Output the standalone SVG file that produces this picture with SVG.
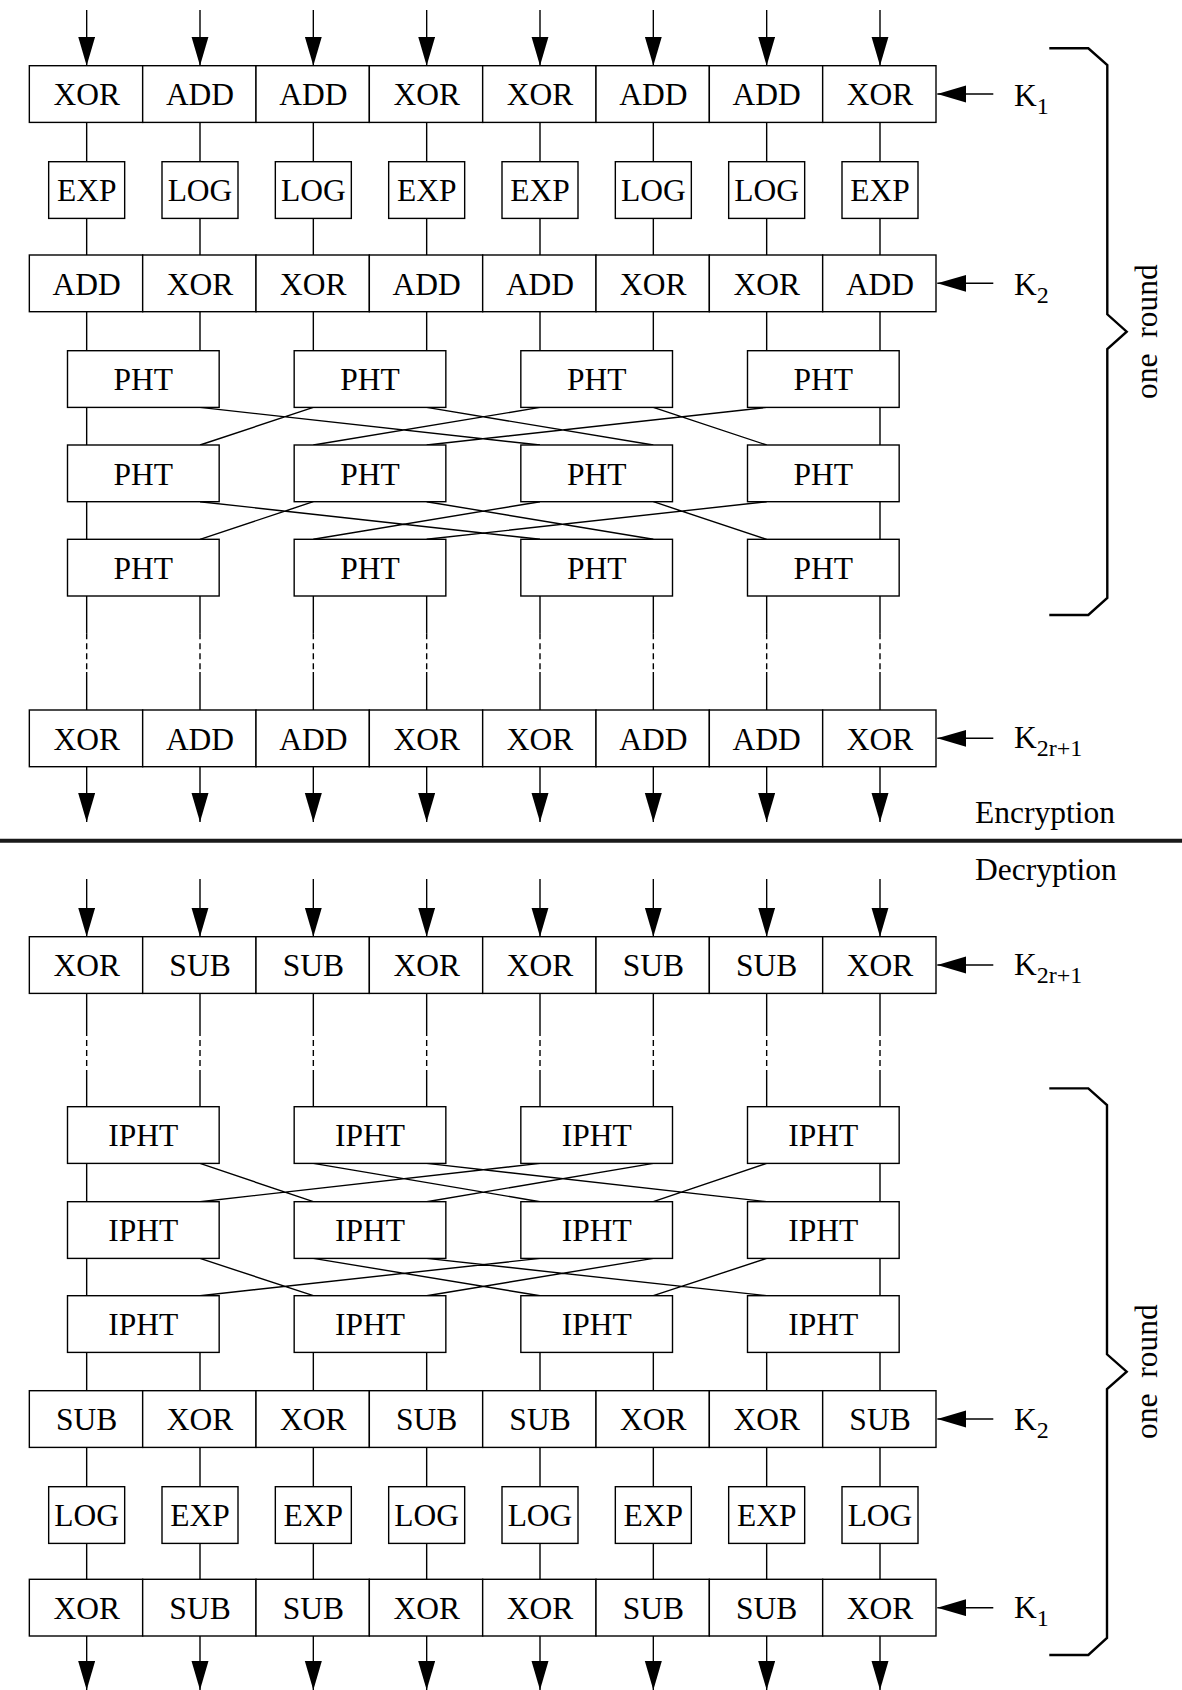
<svg xmlns="http://www.w3.org/2000/svg" width="1182" height="1690" viewBox="0 0 1182 1690">
<style>
  .bx { fill: #fff; stroke: #000; stroke-width: 1.4; }
  .t { font-family: "Liberation Serif", "Times New Roman", serif; font-size: 31.5px; text-anchor: middle; fill: #000; }
  .k { font-family: "Liberation Serif", "Times New Roman", serif; font-size: 31.5px; fill: #000; }
  .sub { font-size: 24px; }
  .ln { stroke: #000; stroke-width: 1.4; fill: none; }
  .ds { stroke: #000; stroke-width: 1.4; fill: none; stroke-dasharray: 6 4; }
  .ar { stroke: #000; stroke-width: 1.4; fill: none; marker-end: url(#ah); }
  .br { stroke: #000; stroke-width: 2.4; fill: none; }
</style>
<defs>
  <marker id="ah" markerUnits="userSpaceOnUse" markerWidth="30" markerHeight="18" refX="29" refY="8.5" orient="auto">
    <path d="M0,0 L29,8.5 L0,17 z" fill="#000"/>
  </marker>
</defs>
<rect x="0" y="0" width="1182" height="1690" fill="#fff"/>

<g id="connectors">
  <!-- encryption input arrows -->
  <line class="ar" x1="86.67" y1="10" x2="86.67" y2="65.7"/>
  <line class="ar" x1="200" y1="10" x2="200" y2="65.7"/>
  <line class="ar" x1="313.33" y1="10" x2="313.33" y2="65.7"/>
  <line class="ar" x1="426.67" y1="10" x2="426.67" y2="65.7"/>
  <line class="ar" x1="540" y1="10" x2="540" y2="65.7"/>
  <line class="ar" x1="653.33" y1="10" x2="653.33" y2="65.7"/>
  <line class="ar" x1="766.67" y1="10" x2="766.67" y2="65.7"/>
  <line class="ar" x1="880" y1="10" x2="880" y2="65.7"/>
  <!-- XOR row -> EXP/LOG -->
  <path class="ln" d="M86.67,122.4V161.7 M200,122.4V161.7 M313.33,122.4V161.7 M426.67,122.4V161.7 M540,122.4V161.7 M653.33,122.4V161.7 M766.67,122.4V161.7 M880,122.4V161.7"/>
  <!-- EXP/LOG -> ADD row -->
  <path class="ln" d="M86.67,218.4V255 M200,218.4V255 M313.33,218.4V255 M426.67,218.4V255 M540,218.4V255 M653.33,218.4V255 M766.67,218.4V255 M880,218.4V255"/>
  <!-- ADD row -> PHT1 -->
  <path class="ln" d="M86.67,311.7V350.7 M200,311.7V350.7 M313.33,311.7V350.7 M426.67,311.7V350.7 M540,311.7V350.7 M653.33,311.7V350.7 M766.67,311.7V350.7 M880,311.7V350.7"/>
  <!-- PHT1 -> PHT2 shuffle -->
  <path class="ln" d="M86.67,407.4L86.67,445 M200,407.4L540,445 M313.33,407.4L200,445 M426.67,407.4L653.33,445 M540,407.4L313.33,445 M653.33,407.4L766.67,445 M766.67,407.4L426.67,445 M880,407.4L880,445"/>
  <!-- PHT2 -> PHT3 shuffle -->
  <path class="ln" d="M86.67,501.7L86.67,539.3 M200,501.7L540,539.3 M313.33,501.7L200,539.3 M426.67,501.7L653.33,539.3 M540,501.7L313.33,539.3 M653.33,501.7L766.67,539.3 M766.67,501.7L426.67,539.3 M880,501.7L880,539.3"/>
  <!-- PHT3 -> final XOR (elided rounds) -->
  <path class="ln" d="M86.67,596V633.3 M200,596V633.3 M313.33,596V633.3 M426.67,596V633.3 M540,596V633.3 M653.33,596V633.3 M766.67,596V633.3 M880,596V633.3"/>
  <path class="ds" d="M86.67,633.3V672 M200,633.3V672 M313.33,633.3V672 M426.67,633.3V672 M540,633.3V672 M653.33,633.3V672 M766.67,633.3V672 M880,633.3V672"/>
  <path class="ln" d="M86.67,672V710 M200,672V710 M313.33,672V710 M426.67,672V710 M540,672V710 M653.33,672V710 M766.67,672V710 M880,672V710"/>
  <!-- encryption output arrows -->
  <line class="ar" x1="86.67" y1="766.7" x2="86.67" y2="822"/>
  <line class="ar" x1="200" y1="766.7" x2="200" y2="822"/>
  <line class="ar" x1="313.33" y1="766.7" x2="313.33" y2="822"/>
  <line class="ar" x1="426.67" y1="766.7" x2="426.67" y2="822"/>
  <line class="ar" x1="540" y1="766.7" x2="540" y2="822"/>
  <line class="ar" x1="653.33" y1="766.7" x2="653.33" y2="822"/>
  <line class="ar" x1="766.67" y1="766.7" x2="766.67" y2="822"/>
  <line class="ar" x1="880" y1="766.7" x2="880" y2="822"/>
  <!-- key arrows encryption -->
  <line class="ar" x1="993.3" y1="94" x2="937.3" y2="94"/>
  <line class="ar" x1="993.3" y1="283.3" x2="937.3" y2="283.3"/>
  <line class="ar" x1="993.3" y1="738.3" x2="937.3" y2="738.3"/>

  <!-- separator -->
  <line x1="0" y1="840.7" x2="1182" y2="840.7" stroke="#1a1a1a" stroke-width="4"/>

  <!-- decryption input arrows -->
  <line class="ar" x1="86.67" y1="879" x2="86.67" y2="936.7"/>
  <line class="ar" x1="200" y1="879" x2="200" y2="936.7"/>
  <line class="ar" x1="313.33" y1="879" x2="313.33" y2="936.7"/>
  <line class="ar" x1="426.67" y1="879" x2="426.67" y2="936.7"/>
  <line class="ar" x1="540" y1="879" x2="540" y2="936.7"/>
  <line class="ar" x1="653.33" y1="879" x2="653.33" y2="936.7"/>
  <line class="ar" x1="766.67" y1="879" x2="766.67" y2="936.7"/>
  <line class="ar" x1="880" y1="879" x2="880" y2="936.7"/>
  <!-- XOR row -> IPHT1 (elided rounds) -->
  <path class="ln" d="M86.67,993.3V1030 M200,993.3V1030 M313.33,993.3V1030 M426.67,993.3V1030 M540,993.3V1030 M653.33,993.3V1030 M766.67,993.3V1030 M880,993.3V1030"/>
  <path class="ds" d="M86.67,1030V1070 M200,1030V1070 M313.33,1030V1070 M426.67,1030V1070 M540,1030V1070 M653.33,1030V1070 M766.67,1030V1070 M880,1030V1070"/>
  <path class="ln" d="M86.67,1070V1106.7 M200,1070V1106.7 M313.33,1070V1106.7 M426.67,1070V1106.7 M540,1070V1106.7 M653.33,1070V1106.7 M766.67,1070V1106.7 M880,1070V1106.7"/>
  <!-- IPHT1 -> IPHT2 inverse shuffle -->
  <path class="ln" d="M86.67,1163.4L86.67,1201.7 M200,1163.4L313.33,1201.7 M313.33,1163.4L540,1201.7 M426.67,1163.4L766.67,1201.7 M540,1163.4L200,1201.7 M653.33,1163.4L426.67,1201.7 M766.67,1163.4L653.33,1201.7 M880,1163.4L880,1201.7"/>
  <!-- IPHT2 -> IPHT3 inverse shuffle -->
  <path class="ln" d="M86.67,1258.4L86.67,1295.7 M200,1258.4L313.33,1295.7 M313.33,1258.4L540,1295.7 M426.67,1258.4L766.67,1295.7 M540,1258.4L200,1295.7 M653.33,1258.4L426.67,1295.7 M766.67,1258.4L653.33,1295.7 M880,1258.4L880,1295.7"/>
  <!-- IPHT3 -> SUB row -->
  <path class="ln" d="M86.67,1352.4V1390.7 M200,1352.4V1390.7 M313.33,1352.4V1390.7 M426.67,1352.4V1390.7 M540,1352.4V1390.7 M653.33,1352.4V1390.7 M766.67,1352.4V1390.7 M880,1352.4V1390.7"/>
  <!-- SUB row -> LOG/EXP -->
  <path class="ln" d="M86.67,1447.4V1486.7 M200,1447.4V1486.7 M313.33,1447.4V1486.7 M426.67,1447.4V1486.7 M540,1447.4V1486.7 M653.33,1447.4V1486.7 M766.67,1447.4V1486.7 M880,1447.4V1486.7"/>
  <!-- LOG/EXP -> XOR row -->
  <path class="ln" d="M86.67,1543.4V1579.3 M200,1543.4V1579.3 M313.33,1543.4V1579.3 M426.67,1543.4V1579.3 M540,1543.4V1579.3 M653.33,1543.4V1579.3 M766.67,1543.4V1579.3 M880,1543.4V1579.3"/>
  <!-- decryption output arrows -->
  <line class="ar" x1="86.67" y1="1636" x2="86.67" y2="1690"/>
  <line class="ar" x1="200" y1="1636" x2="200" y2="1690"/>
  <line class="ar" x1="313.33" y1="1636" x2="313.33" y2="1690"/>
  <line class="ar" x1="426.67" y1="1636" x2="426.67" y2="1690"/>
  <line class="ar" x1="540" y1="1636" x2="540" y2="1690"/>
  <line class="ar" x1="653.33" y1="1636" x2="653.33" y2="1690"/>
  <line class="ar" x1="766.67" y1="1636" x2="766.67" y2="1690"/>
  <line class="ar" x1="880" y1="1636" x2="880" y2="1690"/>
  <!-- key arrows decryption -->
  <line class="ar" x1="993.3" y1="965" x2="937.3" y2="965"/>
  <line class="ar" x1="993.3" y1="1419" x2="937.3" y2="1419"/>
  <line class="ar" x1="993.3" y1="1607.7" x2="937.3" y2="1607.7"/>
</g>

<!-- ===== Encryption ===== -->
<g id="enc-row1">
  <g id="e1-0"><rect class="bx" x="29.33" y="65.7" width="113.33" height="56.7"/><text class="t" x="86.67" y="105.2">XOR</text></g>
  <g id="e1-1"><rect class="bx" x="142.67" y="65.7" width="113.33" height="56.7"/><text class="t" x="200" y="105.2">ADD</text></g>
  <g id="e1-2"><rect class="bx" x="256" y="65.7" width="113.33" height="56.7"/><text class="t" x="313.33" y="105.2">ADD</text></g>
  <g id="e1-3"><rect class="bx" x="369.33" y="65.7" width="113.33" height="56.7"/><text class="t" x="426.67" y="105.2">XOR</text></g>
  <g id="e1-4"><rect class="bx" x="482.67" y="65.7" width="113.33" height="56.7"/><text class="t" x="540" y="105.2">XOR</text></g>
  <g id="e1-5"><rect class="bx" x="596" y="65.7" width="113.33" height="56.7"/><text class="t" x="653.33" y="105.2">ADD</text></g>
  <g id="e1-6"><rect class="bx" x="709.33" y="65.7" width="113.33" height="56.7"/><text class="t" x="766.67" y="105.2">ADD</text></g>
  <g id="e1-7"><rect class="bx" x="822.67" y="65.7" width="113.33" height="56.7"/><text class="t" x="880" y="105.2">XOR</text></g>
</g>
<g id="enc-row2">
  <g id="e2-0"><rect class="bx" x="48.67" y="161.7" width="76" height="56.7"/><text class="t" x="86.67" y="201.2">EXP</text></g>
  <g id="e2-1"><rect class="bx" x="162" y="161.7" width="76" height="56.7"/><text class="t" x="200" y="201.2">LOG</text></g>
  <g id="e2-2"><rect class="bx" x="275.33" y="161.7" width="76" height="56.7"/><text class="t" x="313.33" y="201.2">LOG</text></g>
  <g id="e2-3"><rect class="bx" x="388.67" y="161.7" width="76" height="56.7"/><text class="t" x="426.67" y="201.2">EXP</text></g>
  <g id="e2-4"><rect class="bx" x="502" y="161.7" width="76" height="56.7"/><text class="t" x="540" y="201.2">EXP</text></g>
  <g id="e2-5"><rect class="bx" x="615.33" y="161.7" width="76" height="56.7"/><text class="t" x="653.33" y="201.2">LOG</text></g>
  <g id="e2-6"><rect class="bx" x="728.67" y="161.7" width="76" height="56.7"/><text class="t" x="766.67" y="201.2">LOG</text></g>
  <g id="e2-7"><rect class="bx" x="842" y="161.7" width="76" height="56.7"/><text class="t" x="880" y="201.2">EXP</text></g>
</g>
<g id="enc-row3">
  <g id="e3-0"><rect class="bx" x="29.33" y="255" width="113.33" height="56.7"/><text class="t" x="86.67" y="294.5">ADD</text></g>
  <g id="e3-1"><rect class="bx" x="142.67" y="255" width="113.33" height="56.7"/><text class="t" x="200" y="294.5">XOR</text></g>
  <g id="e3-2"><rect class="bx" x="256" y="255" width="113.33" height="56.7"/><text class="t" x="313.33" y="294.5">XOR</text></g>
  <g id="e3-3"><rect class="bx" x="369.33" y="255" width="113.33" height="56.7"/><text class="t" x="426.67" y="294.5">ADD</text></g>
  <g id="e3-4"><rect class="bx" x="482.67" y="255" width="113.33" height="56.7"/><text class="t" x="540" y="294.5">ADD</text></g>
  <g id="e3-5"><rect class="bx" x="596" y="255" width="113.33" height="56.7"/><text class="t" x="653.33" y="294.5">XOR</text></g>
  <g id="e3-6"><rect class="bx" x="709.33" y="255" width="113.33" height="56.7"/><text class="t" x="766.67" y="294.5">XOR</text></g>
  <g id="e3-7"><rect class="bx" x="822.67" y="255" width="113.33" height="56.7"/><text class="t" x="880" y="294.5">ADD</text></g>
</g>
<g id="enc-pht1">
  <g id="p1-0"><rect class="bx" x="67.5" y="350.7" width="151.67" height="56.7"/><text class="t" x="143.33" y="390.2">PHT</text></g>
  <g id="p1-1"><rect class="bx" x="294.17" y="350.7" width="151.67" height="56.7"/><text class="t" x="370" y="390.2">PHT</text></g>
  <g id="p1-2"><rect class="bx" x="520.83" y="350.7" width="151.67" height="56.7"/><text class="t" x="596.67" y="390.2">PHT</text></g>
  <g id="p1-3"><rect class="bx" x="747.5" y="350.7" width="151.67" height="56.7"/><text class="t" x="823.33" y="390.2">PHT</text></g>
</g>
<g id="enc-pht2">
  <g id="p2-0"><rect class="bx" x="67.5" y="445" width="151.67" height="56.7"/><text class="t" x="143.33" y="484.5">PHT</text></g>
  <g id="p2-1"><rect class="bx" x="294.17" y="445" width="151.67" height="56.7"/><text class="t" x="370" y="484.5">PHT</text></g>
  <g id="p2-2"><rect class="bx" x="520.83" y="445" width="151.67" height="56.7"/><text class="t" x="596.67" y="484.5">PHT</text></g>
  <g id="p2-3"><rect class="bx" x="747.5" y="445" width="151.67" height="56.7"/><text class="t" x="823.33" y="484.5">PHT</text></g>
</g>
<g id="enc-pht3">
  <g id="p3-0"><rect class="bx" x="67.5" y="539.3" width="151.67" height="56.7"/><text class="t" x="143.33" y="578.8">PHT</text></g>
  <g id="p3-1"><rect class="bx" x="294.17" y="539.3" width="151.67" height="56.7"/><text class="t" x="370" y="578.8">PHT</text></g>
  <g id="p3-2"><rect class="bx" x="520.83" y="539.3" width="151.67" height="56.7"/><text class="t" x="596.67" y="578.8">PHT</text></g>
  <g id="p3-3"><rect class="bx" x="747.5" y="539.3" width="151.67" height="56.7"/><text class="t" x="823.33" y="578.8">PHT</text></g>
</g>
<g id="enc-final">
  <g id="ef-0"><rect class="bx" x="29.33" y="710" width="113.33" height="56.7"/><text class="t" x="86.67" y="749.5">XOR</text></g>
  <g id="ef-1"><rect class="bx" x="142.67" y="710" width="113.33" height="56.7"/><text class="t" x="200" y="749.5">ADD</text></g>
  <g id="ef-2"><rect class="bx" x="256" y="710" width="113.33" height="56.7"/><text class="t" x="313.33" y="749.5">ADD</text></g>
  <g id="ef-3"><rect class="bx" x="369.33" y="710" width="113.33" height="56.7"/><text class="t" x="426.67" y="749.5">XOR</text></g>
  <g id="ef-4"><rect class="bx" x="482.67" y="710" width="113.33" height="56.7"/><text class="t" x="540" y="749.5">XOR</text></g>
  <g id="ef-5"><rect class="bx" x="596" y="710" width="113.33" height="56.7"/><text class="t" x="653.33" y="749.5">ADD</text></g>
  <g id="ef-6"><rect class="bx" x="709.33" y="710" width="113.33" height="56.7"/><text class="t" x="766.67" y="749.5">ADD</text></g>
  <g id="ef-7"><rect class="bx" x="822.67" y="710" width="113.33" height="56.7"/><text class="t" x="880" y="749.5">XOR</text></g>
</g>
<g id="enc-keys">
  <text class="k" x="1014" y="106">K<tspan class="sub" dy="7.5">1</tspan></text>
  <text class="k" x="1014" y="295">K<tspan class="sub" dy="7.5">2</tspan></text>
  <text class="k" x="1014" y="748.3">K<tspan class="sub" dy="7.5">2r+1</tspan></text>
</g>
<g id="enc-brace">
  <path class="br" d="M1049.3,48.3 L1088.3,48.3 L1107.3,65 L1107.3,314.3 L1126.7,331.7 L1107.3,349 L1107.3,598 L1088.3,615 L1049.3,615"/>
  <text class="k" transform="translate(1157,331.7) rotate(-90)" text-anchor="middle" style="white-space:pre">one  round</text>
</g>
<g id="labels">
  <text class="k" x="975" y="823.3">Encryption</text>
  <text class="k" x="975" y="880">Decryption</text>
</g>

<!-- ===== Decryption ===== -->
<g id="dec-row1">
  <g id="d1-0"><rect class="bx" x="29.33" y="936.7" width="113.33" height="56.7"/><text class="t" x="86.67" y="976.2">XOR</text></g>
  <g id="d1-1"><rect class="bx" x="142.67" y="936.7" width="113.33" height="56.7"/><text class="t" x="200" y="976.2">SUB</text></g>
  <g id="d1-2"><rect class="bx" x="256" y="936.7" width="113.33" height="56.7"/><text class="t" x="313.33" y="976.2">SUB</text></g>
  <g id="d1-3"><rect class="bx" x="369.33" y="936.7" width="113.33" height="56.7"/><text class="t" x="426.67" y="976.2">XOR</text></g>
  <g id="d1-4"><rect class="bx" x="482.67" y="936.7" width="113.33" height="56.7"/><text class="t" x="540" y="976.2">XOR</text></g>
  <g id="d1-5"><rect class="bx" x="596" y="936.7" width="113.33" height="56.7"/><text class="t" x="653.33" y="976.2">SUB</text></g>
  <g id="d1-6"><rect class="bx" x="709.33" y="936.7" width="113.33" height="56.7"/><text class="t" x="766.67" y="976.2">SUB</text></g>
  <g id="d1-7"><rect class="bx" x="822.67" y="936.7" width="113.33" height="56.7"/><text class="t" x="880" y="976.2">XOR</text></g>
</g>
<g id="dec-ipht1">
  <g id="i1-0"><rect class="bx" x="67.5" y="1106.7" width="151.67" height="56.7"/><text class="t" x="143.33" y="1146.2">IPHT</text></g>
  <g id="i1-1"><rect class="bx" x="294.17" y="1106.7" width="151.67" height="56.7"/><text class="t" x="370" y="1146.2">IPHT</text></g>
  <g id="i1-2"><rect class="bx" x="520.83" y="1106.7" width="151.67" height="56.7"/><text class="t" x="596.67" y="1146.2">IPHT</text></g>
  <g id="i1-3"><rect class="bx" x="747.5" y="1106.7" width="151.67" height="56.7"/><text class="t" x="823.33" y="1146.2">IPHT</text></g>
</g>
<g id="dec-ipht2">
  <g id="i2-0"><rect class="bx" x="67.5" y="1201.7" width="151.67" height="56.7"/><text class="t" x="143.33" y="1241.2">IPHT</text></g>
  <g id="i2-1"><rect class="bx" x="294.17" y="1201.7" width="151.67" height="56.7"/><text class="t" x="370" y="1241.2">IPHT</text></g>
  <g id="i2-2"><rect class="bx" x="520.83" y="1201.7" width="151.67" height="56.7"/><text class="t" x="596.67" y="1241.2">IPHT</text></g>
  <g id="i2-3"><rect class="bx" x="747.5" y="1201.7" width="151.67" height="56.7"/><text class="t" x="823.33" y="1241.2">IPHT</text></g>
</g>
<g id="dec-ipht3">
  <g id="i3-0"><rect class="bx" x="67.5" y="1295.7" width="151.67" height="56.7"/><text class="t" x="143.33" y="1335.2">IPHT</text></g>
  <g id="i3-1"><rect class="bx" x="294.17" y="1295.7" width="151.67" height="56.7"/><text class="t" x="370" y="1335.2">IPHT</text></g>
  <g id="i3-2"><rect class="bx" x="520.83" y="1295.7" width="151.67" height="56.7"/><text class="t" x="596.67" y="1335.2">IPHT</text></g>
  <g id="i3-3"><rect class="bx" x="747.5" y="1295.7" width="151.67" height="56.7"/><text class="t" x="823.33" y="1335.2">IPHT</text></g>
</g>
<g id="dec-row5">
  <g id="d5-0"><rect class="bx" x="29.33" y="1390.7" width="113.33" height="56.7"/><text class="t" x="86.67" y="1430.2">SUB</text></g>
  <g id="d5-1"><rect class="bx" x="142.67" y="1390.7" width="113.33" height="56.7"/><text class="t" x="200" y="1430.2">XOR</text></g>
  <g id="d5-2"><rect class="bx" x="256" y="1390.7" width="113.33" height="56.7"/><text class="t" x="313.33" y="1430.2">XOR</text></g>
  <g id="d5-3"><rect class="bx" x="369.33" y="1390.7" width="113.33" height="56.7"/><text class="t" x="426.67" y="1430.2">SUB</text></g>
  <g id="d5-4"><rect class="bx" x="482.67" y="1390.7" width="113.33" height="56.7"/><text class="t" x="540" y="1430.2">SUB</text></g>
  <g id="d5-5"><rect class="bx" x="596" y="1390.7" width="113.33" height="56.7"/><text class="t" x="653.33" y="1430.2">XOR</text></g>
  <g id="d5-6"><rect class="bx" x="709.33" y="1390.7" width="113.33" height="56.7"/><text class="t" x="766.67" y="1430.2">XOR</text></g>
  <g id="d5-7"><rect class="bx" x="822.67" y="1390.7" width="113.33" height="56.7"/><text class="t" x="880" y="1430.2">SUB</text></g>
</g>
<g id="dec-row6">
  <g id="d6-0"><rect class="bx" x="48.67" y="1486.7" width="76" height="56.7"/><text class="t" x="86.67" y="1526.2">LOG</text></g>
  <g id="d6-1"><rect class="bx" x="162" y="1486.7" width="76" height="56.7"/><text class="t" x="200" y="1526.2">EXP</text></g>
  <g id="d6-2"><rect class="bx" x="275.33" y="1486.7" width="76" height="56.7"/><text class="t" x="313.33" y="1526.2">EXP</text></g>
  <g id="d6-3"><rect class="bx" x="388.67" y="1486.7" width="76" height="56.7"/><text class="t" x="426.67" y="1526.2">LOG</text></g>
  <g id="d6-4"><rect class="bx" x="502" y="1486.7" width="76" height="56.7"/><text class="t" x="540" y="1526.2">LOG</text></g>
  <g id="d6-5"><rect class="bx" x="615.33" y="1486.7" width="76" height="56.7"/><text class="t" x="653.33" y="1526.2">EXP</text></g>
  <g id="d6-6"><rect class="bx" x="728.67" y="1486.7" width="76" height="56.7"/><text class="t" x="766.67" y="1526.2">EXP</text></g>
  <g id="d6-7"><rect class="bx" x="842" y="1486.7" width="76" height="56.7"/><text class="t" x="880" y="1526.2">LOG</text></g>
</g>
<g id="dec-row7">
  <g id="d7-0"><rect class="bx" x="29.33" y="1579.3" width="113.33" height="56.7"/><text class="t" x="86.67" y="1618.8">XOR</text></g>
  <g id="d7-1"><rect class="bx" x="142.67" y="1579.3" width="113.33" height="56.7"/><text class="t" x="200" y="1618.8">SUB</text></g>
  <g id="d7-2"><rect class="bx" x="256" y="1579.3" width="113.33" height="56.7"/><text class="t" x="313.33" y="1618.8">SUB</text></g>
  <g id="d7-3"><rect class="bx" x="369.33" y="1579.3" width="113.33" height="56.7"/><text class="t" x="426.67" y="1618.8">XOR</text></g>
  <g id="d7-4"><rect class="bx" x="482.67" y="1579.3" width="113.33" height="56.7"/><text class="t" x="540" y="1618.8">XOR</text></g>
  <g id="d7-5"><rect class="bx" x="596" y="1579.3" width="113.33" height="56.7"/><text class="t" x="653.33" y="1618.8">SUB</text></g>
  <g id="d7-6"><rect class="bx" x="709.33" y="1579.3" width="113.33" height="56.7"/><text class="t" x="766.67" y="1618.8">SUB</text></g>
  <g id="d7-7"><rect class="bx" x="822.67" y="1579.3" width="113.33" height="56.7"/><text class="t" x="880" y="1618.8">XOR</text></g>
</g>
<g id="dec-keys">
  <text class="k" x="1014" y="975">K<tspan class="sub" dy="7.5">2r+1</tspan></text>
  <text class="k" x="1014" y="1430">K<tspan class="sub" dy="7.5">2</tspan></text>
  <text class="k" x="1014" y="1618">K<tspan class="sub" dy="7.5">1</tspan></text>
</g>
<g id="dec-brace">
  <path class="br" d="M1049.3,1088.4 L1088.3,1088.4 L1107,1105 L1107,1354.3 L1126.7,1371.7 L1107,1389 L1107,1638 L1088.3,1655 L1049.3,1655"/>
  <text class="k" transform="translate(1157,1371.7) rotate(-90)" text-anchor="middle" style="white-space:pre">one  round</text>
</g>
</svg>
